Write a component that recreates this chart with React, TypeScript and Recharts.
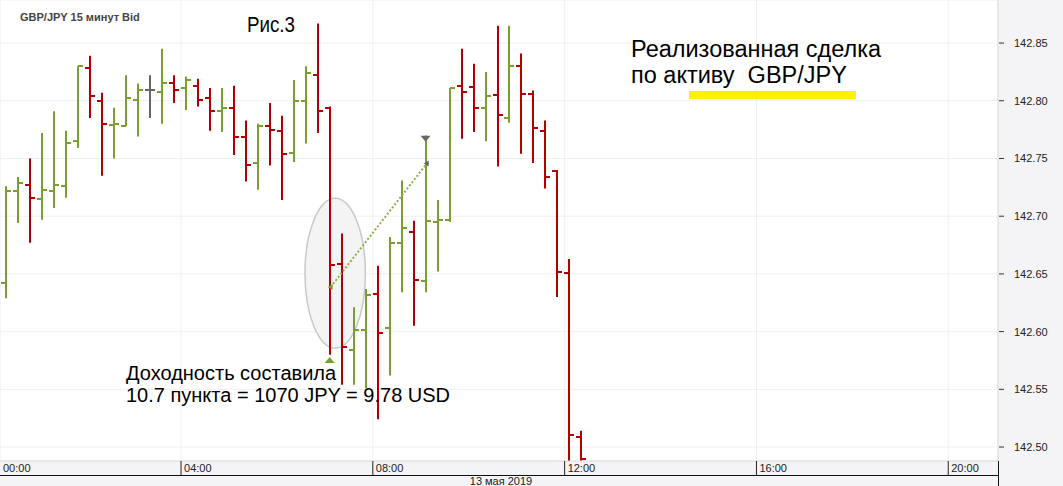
import React from 'react';
import {
  ComposedChart,
  Bar,
  XAxis,
  YAxis,
  CartesianGrid,
  ReferenceArea,
  ReferenceLine,
  ReferenceDot,
} from 'recharts';

// GBP/JPY 15 min bars, left to right
const opens = [
  142.642, 142.722, 142.727, 142.715, 142.722, 142.726, 142.765, 142.828, 142.8, 142.779,
  142.778, 142.801, 142.809, 142.808, 142.815, 142.811, 142.813, 142.802, 142.791, 142.794,
  142.769, 142.746, 142.778, 142.774, 142.755, 142.8, 142.822, 142.794, 142.659, 142.584,
  142.601, 142.633, 142.603, 142.677, 142.686, 142.644, 142.695, 142.697, 142.813, 142.812,
  142.794, 142.805, 142.785, 142.83, 142.806, 142.774, 142.739, 142.651, 142.509,
];
const highs = [
  142.726, 142.734, 142.75, 142.772, 142.791, 142.774, 142.83, 142.839, 142.807, 142.794,
  142.822, 142.815, 142.822, 142.845, 142.822, 142.821, 142.819, 142.811, 142.811, 142.813,
  142.783, 142.78, 142.798, 142.787, 142.818, 142.83, 142.867, 142.795, 142.685, 142.621,
  142.637, 142.657, 142.682, 142.731, 142.696, 142.77, 142.714, 142.811, 142.845, 142.832,
  142.825, 142.865, 142.865, 142.841, 142.809, 142.783, 142.74, 142.663, 142.514,
];
const lows = [
  142.629, 142.694, 142.677, 142.697, 142.707, 142.716, 142.759, 142.785, 142.735, 142.75,
  142.778, 142.769, 142.785, 142.78, 142.798, 142.792, 142.795, 142.774, 142.773, 142.753,
  142.73, 142.723, 142.744, 142.714, 142.747, 142.763, 142.772, 142.58, 142.554, 142.554,
  142.551, 142.524, 142.562, 142.634, 142.605, 142.634, 142.652, 142.695, 142.767, 142.773,
  142.765, 142.743, 142.781, 142.754, 142.746, 142.724, 142.63, 142.47, 142.46,
];
const closes = [
  142.722, 142.729, 142.716, 142.723, 142.727, 142.763, 142.83, 142.804, 142.78, 142.78,
  142.802, 142.809, 142.809, 142.815, 142.809, 142.818, 142.801, 142.791, 142.794, 142.769,
  142.744, 142.778, 142.775, 142.754, 142.8, 142.824, 142.791, 142.658, 142.587, 142.601,
  142.632, 142.599, 142.677, 142.69, 142.645, 142.696, 142.697, 142.811, 142.808, 142.794,
  142.804, 142.788, 142.83, 142.806, 142.776, 142.734, 142.652, 142.51, 142.49,
];

const priceTicks = [142.5, 142.55, 142.6, 142.65, 142.7, 142.75, 142.8, 142.85];
const timeTicks = [-0.5, 14.6, 30.6, 46.6, 62.6, 78.6];
const timeLabels = ['00:00', '04:00', '08:00', '12:00', '16:00', '20:00'];

// trade: entry bar / price, exit bar / price
const entry = { bar: 27.08, price: 142.6386 };
const exit = { bar: 35.1, price: 142.7456 };

const GREEN = '#78a02a';
const RED = '#b00000';
const GRAY = '#666666';
const FONT = '"Liberation Sans", Arial, sans-serif';

const data = opens.map((o, i) => ({
  i,
  open: o,
  high: highs[i],
  low: lows[i],
  close: closes[i],
  range: [lows[i], highs[i]],
}));

const OhlcBar = (props: any) => {
  const { x, y, width, height, payload } = props;
  const cx = Math.round(x + width / 2);
  const top = Math.min(y, y + height);
  const span = Math.abs(height);
  const r = payload.high - payload.low || 1;
  const py = (v: number) => Math.round(top + ((payload.high - v) / r) * span);
  const color =
    payload.close > payload.open ? GREEN : payload.close < payload.open ? RED : GRAY;
  return (
    <g stroke={color} strokeWidth={2}>
      <line x1={cx} x2={cx} y1={top} y2={top + span} />
      <line x1={cx - 5} x2={cx} y1={py(payload.open)} y2={py(payload.open)} />
      <line x1={cx} x2={cx + 5} y1={py(payload.close)} y2={py(payload.close)} />
    </g>
  );
};

const XTick = ({ x, y, payload, index }: any) => {
  const idx = timeTicks.indexOf(payload.value);
  return (
    <g>
      {index > 0 && <line x1={x} x2={x} y1={y} y2={y + 14} stroke="#222" />}
      <text x={x + 3} y={y + 11} fontSize={11} fontFamily={FONT} fill="#222">
        {timeLabels[idx >= 0 ? idx : index]}
      </text>
    </g>
  );
};

const YTick = ({ x, y, payload }: any) => (
  <g>
    <line x1={x + 1} x2={x + 6} y1={y} y2={y} stroke="#333" />
    <text x={x + 16} y={y + 4} fontSize={11} fontFamily={FONT} fill="#222">
      {payload.value.toFixed(2)}
    </text>
  </g>
);

const Ellipse = (props: any) => {
  const { x, y, width, height } = props;
  return (
    <ellipse
      cx={x + width / 2}
      cy={y + height / 2}
      rx={width / 2}
      ry={height / 2}
      fill="#f4f4f4"
      stroke="#c8c8c8"
      strokeWidth={1.5}
    />
  );
};

const UpMarker = ({ cx, cy }: any) => (
  <path d={`M${cx - 5},${cy + 3} L${cx},${cy - 3} L${cx + 5},${cy + 3} Z`} fill={GREEN} />
);
const DownMarker = ({ cx, cy }: any) => (
  <path d={`M${cx - 5},${cy - 3} L${cx},${cy + 3} L${cx + 5},${cy - 3} Z`} fill={GRAY} />
);
const LeftArrow = (color: string) => ({ cx, cy }: any) => (
  <path d={`M${cx - 3},${cy} L${cx + 2},${cy - 3} L${cx + 2},${cy + 3} Z`} fill={color} />
);

export default function App() {
  return (
    <div
      style={{
        position: 'absolute',
        left: 0,
        top: 0,
        width: 1063,
        height: 486,
        background: '#f4f4f6',
        overflow: 'hidden',
      }}
    >
      <ComposedChart
        width={1063}
        height={486}
        data={data}
        margin={{ top: 0, right: 0, bottom: 0, left: 0 }}
      >
        <CartesianGrid stroke="#f0f0f0" fill="#ffffff" />
        <XAxis
          type="number"
          dataKey="i"
          domain={[-0.5, 82.75]}
          ticks={timeTicks}
          height={25}
          tickSize={0}
          tickMargin={0}
          tickLine={false}
          axisLine={{ stroke: '#dcdcdc' }}
          tick={<XTick />}
          interval={0}
        />
        <YAxis
          orientation="right"
          type="number"
          domain={[142.4879, 142.8873]}
          allowDataOverflow
          ticks={priceTicks}
          width={65}
          tickSize={0}
          tickMargin={0}
          tickLine={false}
          axisLine={{ stroke: '#dcdcdc' }}
          tick={<YTick />}
          interval={0}
        />
        <ReferenceArea
          x1={24.94}
          x2={29.98}
          y1={142.5856}
          y2={142.7155}
          shape={<Ellipse />}
        />
        <Bar dataKey="range" barSize={8} shape={<OhlcBar />} isAnimationActive={false} />
        <ReferenceLine
          segment={[
            { x: entry.bar, y: entry.price },
            { x: exit.bar, y: exit.price },
          ]}
          stroke="#8caf45"
          strokeWidth={2}
          strokeDasharray="2 2"
        />
        <ReferenceDot x={entry.bar} y={entry.price} shape={LeftArrow(GREEN)} />
        <ReferenceDot x={exit.bar} y={exit.price} shape={LeftArrow(GRAY)} />
        <ReferenceDot x={27} y={142.5755} shape={<UpMarker />} />
        <ReferenceDot x={35} y={142.767} shape={<DownMarker />} />
      </ComposedChart>
      <svg
        width={1063}
        height={486}
        style={{ position: 'absolute', left: 0, top: 0, pointerEvents: 'none' }}
      >
        <line x1={0} x2={998} y1={475.5} y2={475.5} stroke="#111" />
        <line x1={998.5} x2={998.5} y1={461} y2={486} stroke="#111" />
        <text x={501} y={485} textAnchor="middle" fontSize={11} fontFamily={FONT} fill="#222">
          13 мая 2019
        </text>
        <text x={20} y={21} fontSize={11} fontWeight="bold" fontFamily={FONT} fill="#444">
          GBP/JPY  15 минут Bid
        </text>
        <text
          x={247}
          y={32}
          fontSize={22}
          fontFamily={'"Liberation Sans Narrow", "Liberation Sans", Arial, sans-serif'}
          fill="#000"
          textLength={48}
          lengthAdjust="spacingAndGlyphs"
        >
          Рис.3
        </text>
        <text x={631} y={57} fontSize={23.5} fontFamily={FONT} fill="#000">
          Реализованная сделка
        </text>
        <text x={631} y={83} fontSize={23.5} fontFamily={FONT} fill="#000" xmlSpace="preserve">
          по активу  GBP/JPY
        </text>
        <rect x={689} y={91} width={167} height={8} fill="#fff000" />
        <text x={126} y={380} fontSize={20} fontFamily={FONT} fill="#000">
          Доходность составила
        </text>
        <text x={126} y={402} fontSize={20} fontFamily={FONT} fill="#000">
          10.7 пункта = 1070 JPY = 9.78 USD
        </text>
      </svg>
    </div>
  );
}
